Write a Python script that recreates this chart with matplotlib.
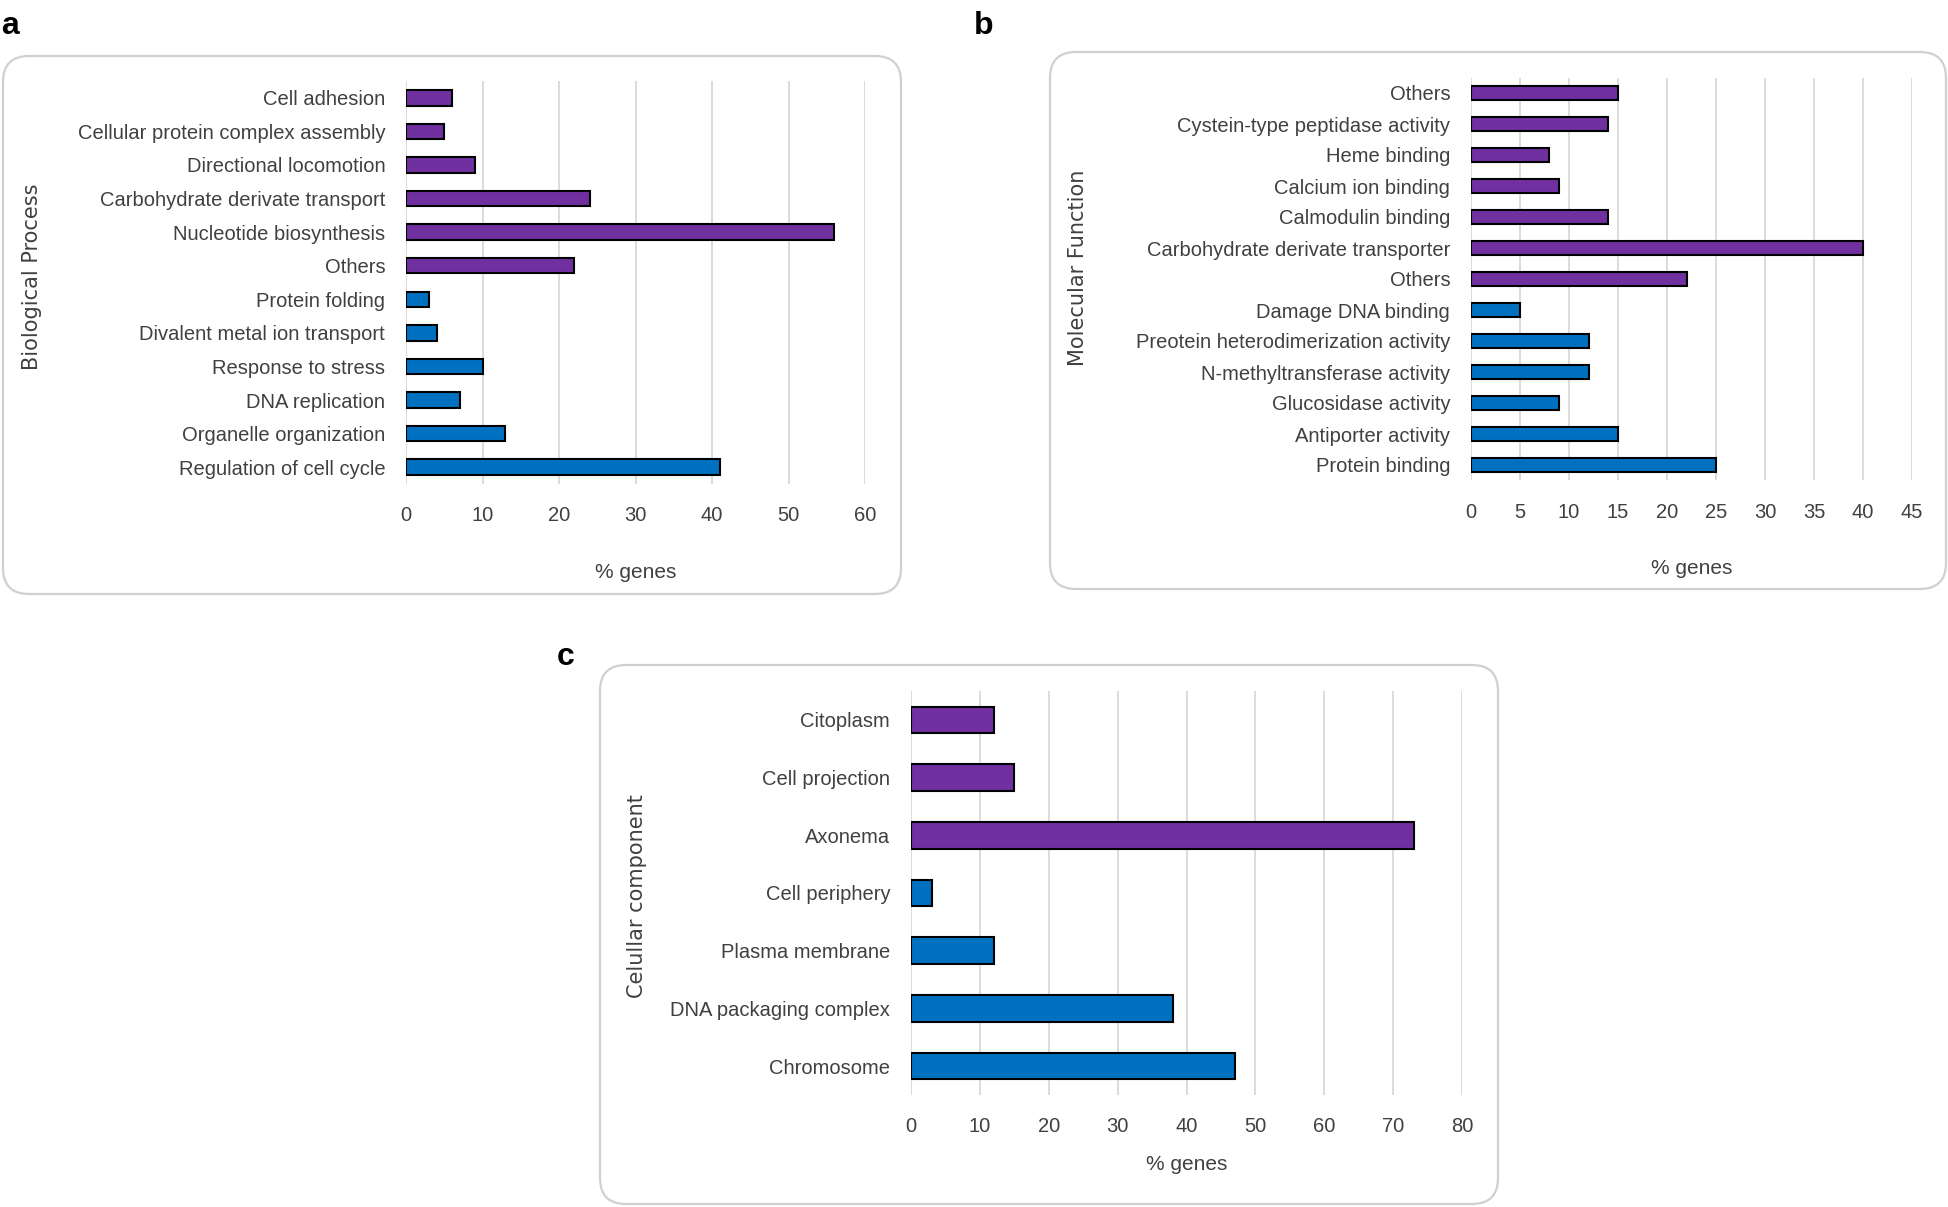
import matplotlib
matplotlib.use("Agg")
import matplotlib.pyplot as plt
from matplotlib.patches import FancyBboxPatch
from matplotlib import font_manager

# ---------------- data ----------------
bp_labels = ["Cell adhesion", "Cellular protein complex assembly", "Directional locomotion",
             "Carbohydrate derivate transport", "Nucleotide biosynthesis", "Others",
             "Protein folding", "Divalent metal ion transport", "Response to stress",
             "DNA replication", "Organelle organization", "Regulation of cell cycle"]
bp_values = [6, 5, 9, 24, 56, 22, 3, 4, 10, 7, 13, 41]
bp_group = ["p"] * 6 + ["b"] * 6
bp_ticks = [0, 10, 20, 30, 40, 50, 60]

mf_labels = ["Others", "Cystein-type peptidase activity", "Heme binding", "Calcium ion binding",
             "Calmodulin binding", "Carbohydrate derivate transporter", "Others",
             "Damage DNA binding", "Preotein heterodimerization activity",
             "N-methyltransferase activity", "Glucosidase activity", "Antiporter activity",
             "Protein binding"]
mf_values = [15, 14, 8, 9, 14, 40, 22, 5, 12, 12, 9, 15, 25]
mf_group = ["p"] * 7 + ["b"] * 6
mf_ticks = [0, 5, 10, 15, 20, 25, 30, 35, 40, 45]

cc_labels = ["Citoplasm", "Cell projection", "Axonema", "Cell periphery",
             "Plasma membrane", "DNA packaging complex", "Chromosome"]
cc_values = [12, 15, 73, 3, 12, 38, 47]
cc_group = ["p"] * 3 + ["b"] * 4
cc_ticks = [0, 10, 20, 30, 40, 50, 60, 70, 80]

colors = {"p": "#7030A0", "b": "#0070C0"}

# ---------------- fonts ----------------
names = {f.name for f in font_manager.fontManager.ttflist}
narrow = "Liberation Sans Narrow" if "Liberation Sans Narrow" in names else "Liberation Sans"
TXT = "#404040"

W, H = 1948, 1207
fig = plt.figure(figsize=(W / 100, H / 100), dpi=100)
fig.patch.set_facecolor("white")

bg = fig.add_axes([0, 0, 1, 1], zorder=-10)
bg.set_xlim(0, W)
bg.set_ylim(H, 0)
bg.axis("off")

# panel boxes
for (x0, y0, x1, y1) in [(3, 56, 901, 594), (1050, 52, 1946, 589), (600, 665, 1498, 1204)]:
    bg.add_patch(FancyBboxPatch((x0, y0), x1 - x0, y1 - y0,
                                boxstyle="round,pad=0,rounding_size=26",
                                fc="white", ec="#D0D0D0", lw=1.6))

for txt, x, y in [("a", 10, 26), ("b", 984, 26), ("c", 566, 657)]:
    bg.text(x, y, txt, fontsize=23, fontweight="bold", family="Liberation Sans",
            ha="center", va="center", color="black")


def panel(left_px, right_px, top_px, bottom_px, labels, values, groups, ticks,
          ylabel, ylab_x, ylab_y, xlab_y):
    ax = fig.add_axes([left_px / W, 1 - bottom_px / H,
                       (right_px - left_px) / W, (bottom_px - top_px) / H])
    n = len(labels)
    ypos = list(range(n))
    ax.barh(ypos, values, height=0.46, color=[colors[g] for g in groups],
            edgecolor="black", linewidth=1.5, zorder=3)
    ax.set_ylim(n - 0.5, -0.5)
    ax.set_xlim(ticks[0], ticks[-1])
    ax.set_xticks(ticks)
    ax.set_xticklabels([str(t) for t in ticks], family=narrow, fontsize=14.5, color=TXT)
    ax.set_yticks(ypos)
    ax.set_yticklabels(labels, family=narrow, fontsize=14.5, color=TXT)
    ax.tick_params(axis="both", length=0)
    ax.tick_params(axis="x", pad=16)
    ax.tick_params(axis="y", pad=15)
    for s in ax.spines.values():
        s.set_visible(False)
    ax.grid(axis="x", color="#D9D9D9", lw=1.3, zorder=0)
    ax.set_axisbelow(True)
    ax.patch.set_alpha(0)
    bg.text((left_px + right_px) / 2, xlab_y, "% genes", family=narrow, fontsize=15,
            color=TXT, ha="center", va="center")
    bg.text(ylab_x, ylab_y, ylabel, family="DejaVu Sans", fontsize=15, color=TXT,
            rotation=90, ha="center", va="center")
    return ax


panel(406, 865, 81, 484, bp_labels, bp_values, bp_group, bp_ticks,
      "Biological Process", 32, 277, 573)
panel(1471, 1912, 77.5, 480.5, mf_labels, mf_values, mf_group, mf_ticks,
      "Molecular Function", 1078, 268, 568)
panel(911, 1462, 691, 1095, cc_labels, cc_values, cc_group, cc_ticks,
      "Celullar component", 637, 896, 1164)

fig.savefig("out.png", dpi=100, facecolor="white")
